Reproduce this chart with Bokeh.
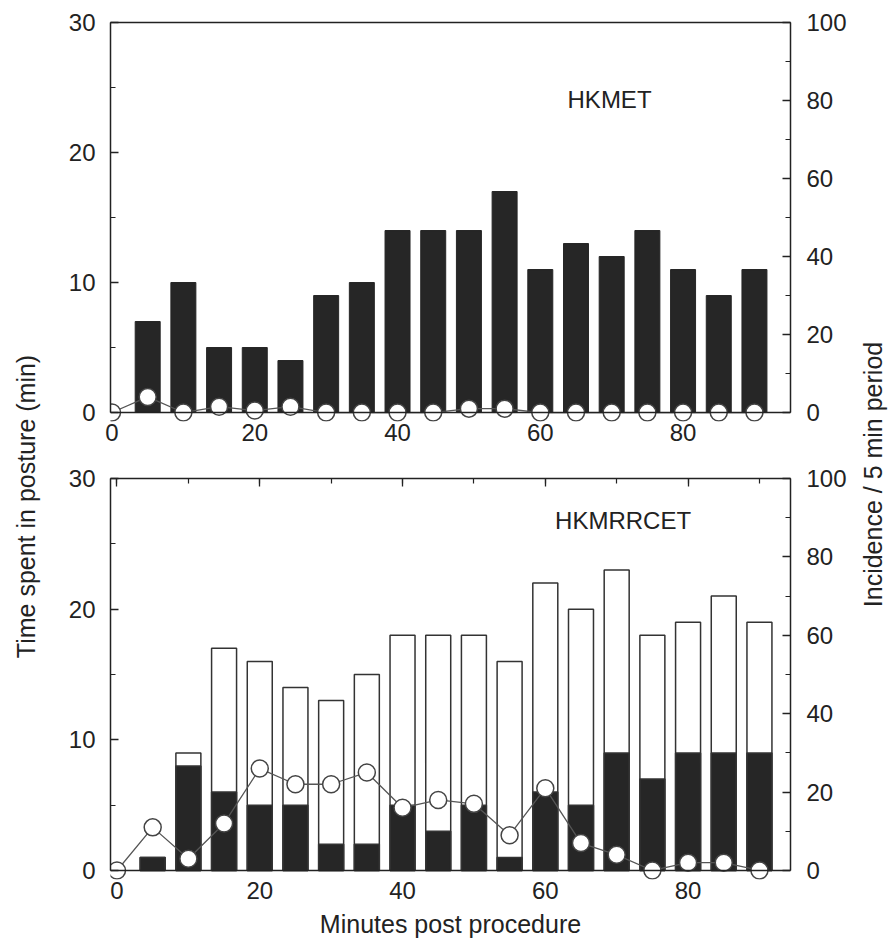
import math
from bokeh.plotting import figure
from bokeh.models import Range1d, LinearAxis, SingleIntervalTicker, Span, Label
from bokeh.layouts import row, column
from bokeh.embed import file_html
from bokeh.resources import INLINE

# ---------------- data ----------------
bar_minutes = [5, 10, 15, 20, 25, 30, 35, 40, 45, 50, 55, 60, 65, 70, 75, 80, 85, 90]
inc_minutes = [0, 5, 10, 15, 20, 25, 30, 35, 40, 45, 50, 55, 60, 65, 70, 75, 80, 85, 90]

hkmet_time = [7, 10, 5, 5, 4, 9, 10, 14, 14, 14, 17, 11, 13, 12, 14, 11, 9, 11]
hkmet_incidence = [0, 4, 0, 1.5, 0.5, 1.5, 0, 0, 0, 0, 1, 1, 0, 0, 0, 0, 0, 0, 0]

hkmrrcet_total = [1, 9, 17, 16, 14, 13, 15, 18, 18, 18, 16, 22, 20, 23, 18, 19, 21, 19]
hkmrrcet_black = [1, 8, 6, 5, 5, 2, 2, 5, 3, 5, 1, 6, 5, 9, 7, 9, 9, 9]
hkmrrcet_incidence = [0, 11, 3, 12, 26, 22, 22, 25, 16, 18, 17, 9, 21, 7, 4, 0, 2, 2, 0]

y_ticks_left = 10
y_ticks_right = 20
x_ticks = 20

# ---------------- style ----------------
FONT = "Liberation Sans"
INK = "#222222"
BAR = "#262626"
BAR_W = 3.5


def style_axis(ax, standoff, tick_in=8, minor_in=5):
    ax.axis_line_color = INK
    ax.axis_line_width = 1.5
    ax.major_tick_in = tick_in
    ax.major_tick_out = 0
    ax.minor_tick_in = minor_in
    ax.minor_tick_out = 0
    ax.major_tick_line_color = INK
    ax.major_tick_line_width = 1.3
    ax.minor_tick_line_color = INK
    ax.minor_tick_line_width = 1.2
    ax.major_label_text_font = FONT
    ax.major_label_text_font_size = "24px"
    ax.major_label_text_color = INK
    ax.major_label_standoff = standoff


def panel(height, bt, bb, y0, xr, top_ticks):
    p = figure(width=800, height=height, x_range=Range1d(*xr), y_range=Range1d(y0, 30),
               output_backend="svg", toolbar_location=None,
               x_axis_location=None, y_axis_location=None,
               min_border_left=60, min_border_right=60,
               min_border_top=bt, min_border_bottom=bb)
    p.outline_line_color = None
    p.xgrid.visible = False
    p.ygrid.visible = False
    p.background_fill_color = "white"
    p.border_fill_color = "white"
    p.extra_y_ranges = {"inc": Range1d(y0 * 100 / 30, 100)}

    left = LinearAxis(bounds=(0, 30),
                      ticker=SingleIntervalTicker(interval=y_ticks_left, num_minor_ticks=2))
    style_axis(left, 15)
    p.add_layout(left, "left")

    right = LinearAxis(y_range_name="inc", bounds=(0, 100),
                       ticker=SingleIntervalTicker(interval=y_ticks_right, num_minor_ticks=2))
    style_axis(right, 16)
    p.add_layout(right, "right")

    bottom = LinearAxis(ticker=SingleIntervalTicker(interval=x_ticks, num_minor_ticks=2))
    style_axis(bottom, 2)
    bottom.axis_line_color = None
    bottom.major_tick_line_color = None
    bottom.minor_tick_line_color = None
    p.add_layout(bottom, "below")

    top = LinearAxis(ticker=SingleIntervalTicker(interval=x_ticks, num_minor_ticks=2))
    style_axis(top, 0)
    top.major_label_text_font_size = "1px"
    top.major_label_text_color = None
    if not top_ticks:
        top.major_tick_line_color = None
        top.minor_tick_line_color = None
    p.add_layout(top, "above")

    p.add_layout(Span(location=0, dimension="width", line_color=INK, line_width=1.5))
    return p, bottom


# ---------------- top panel: HKMET ----------------
p1, _ = panel(460, 22, 39, -0.69, (-0.21, 95.05), False)
p1.vbar(x=bar_minutes, top=hkmet_time, bottom=0, width=BAR_W,
        fill_color=BAR, line_color=BAR, line_width=1)
p1.line(inc_minutes, hkmet_incidence, y_range_name="inc", line_color="#555555", line_width=1.3)
p1.scatter(inc_minutes, hkmet_incidence, y_range_name="inc", size=17, marker="circle",
           fill_color="white", line_color="#444444", line_width=1.5)
p1.add_layout(Label(x=69.7, y=24.1, text="HKMET", text_font=FONT, text_font_size="24px",
                    text_color=INK, text_align="center", text_baseline="middle"))

# ---------------- bottom panel: HKMRRCET ----------------
p2, ax2 = panel(480, 18, 61, -0.69, (-0.91, 94.35), True)
p2.vbar(x=bar_minutes, top=hkmrrcet_total, bottom=0, width=BAR_W,
        fill_color="white", line_color="#333333", line_width=1.5)
p2.vbar(x=bar_minutes, top=hkmrrcet_black, bottom=0, width=BAR_W,
        fill_color=BAR, line_color="#333333", line_width=1.5)
p2.line(inc_minutes, hkmrrcet_incidence, y_range_name="inc", line_color="#555555", line_width=1.3)
p2.scatter(inc_minutes, hkmrrcet_incidence, y_range_name="inc", size=17, marker="circle",
           fill_color="white", line_color="#444444", line_width=1.5)
p2.add_layout(Label(x=70.9, y=26.8, text="HKMRRCET", text_font=FONT, text_font_size="24px",
                    text_color=INK, text_align="center", text_baseline="middle"))
ax2.axis_label = "Minutes post procedure"
ax2.axis_label_text_font = FONT
ax2.axis_label_text_font_size = "25px"
ax2.axis_label_text_font_style = "normal"
ax2.axis_label_text_color = INK
ax2.axis_label_standoff = 8


# ---------------- side titles ----------------
def side(width, text, cx, cy):
    s = figure(width=width, height=940, x_range=Range1d(0, width), y_range=Range1d(940, 0),
               output_backend="svg", toolbar_location=None,
               x_axis_location=None, y_axis_location=None, min_border=0)
    s.outline_line_color = None
    s.xgrid.visible = False
    s.ygrid.visible = False
    s.add_layout(Label(x=cx, y=cy, text=text, angle=math.pi / 2, text_font=FONT,
                       text_font_size="25px", text_color=INK,
                       text_align="center", text_baseline="middle"))
    return s


left_title = side(50, "Time spent in posture (min)", 25, 506)
right_title = side(39, "Incidence / 5 min period", 22, 474)

layout = row(left_title, column(p1, p2), right_title)

open("out.html", "w").write(file_html(layout, INLINE))
